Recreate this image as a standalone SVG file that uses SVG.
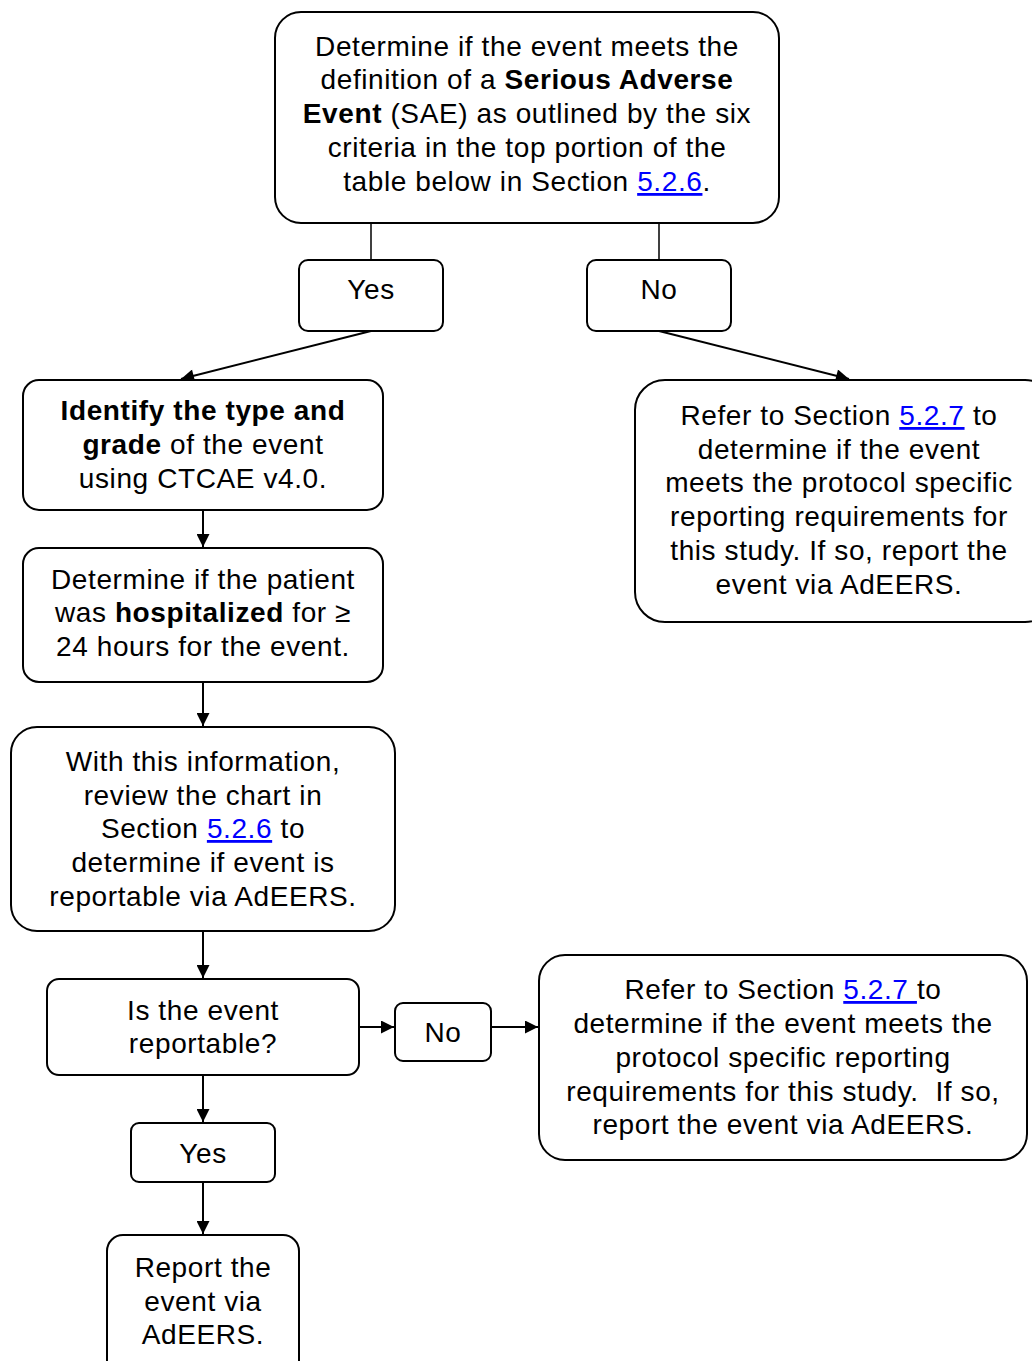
<svg xmlns="http://www.w3.org/2000/svg" width="1032" height="1361" viewBox="0 0 1032 1361">
<style>
.box{fill:#fff;stroke:#000;stroke-width:2}
.t{font-family:"Liberation Sans",Arial,sans-serif;font-size:28px;letter-spacing:0.6px;fill:#000;text-anchor:middle}
.b{font-weight:bold}
.lk{fill:#0000ff;text-decoration:underline}
.c{stroke:#000;stroke-width:2;fill:none}
.c1{stroke:#000;stroke-width:1.5;fill:none}
</style>
<defs>
<marker id="ah" viewBox="0 0 10 10" refX="10" refY="5" markerWidth="8" markerHeight="6.5" markerUnits="strokeWidth" orient="auto">
<path d="M0,0 L10,5 L0,10 z" fill="#000"/>
</marker>
</defs>
<rect width="1032" height="1361" fill="#fff"/>
<g id="connectors">
<line class="c1" x1="371" y1="223" x2="371" y2="260"/>
<line class="c1" x1="659" y1="223" x2="659" y2="260"/>
<line class="c" x1="371" y1="331" x2="181" y2="379" marker-end="url(#ah)"/>
<line class="c" x1="659" y1="331" x2="849" y2="379" marker-end="url(#ah)"/>
<line class="c" x1="203" y1="510" x2="203" y2="547" marker-end="url(#ah)"/>
<line class="c" x1="203" y1="682" x2="203" y2="726" marker-end="url(#ah)"/>
<line class="c" x1="203" y1="931" x2="203" y2="978" marker-end="url(#ah)"/>
<line class="c" x1="359" y1="1027" x2="394" y2="1027" marker-end="url(#ah)"/>
<line class="c" x1="491" y1="1027" x2="538" y2="1027" marker-end="url(#ah)"/>
<line class="c" x1="203" y1="1075" x2="203" y2="1122" marker-end="url(#ah)"/>
<line class="c" x1="203" y1="1182" x2="203" y2="1234" marker-end="url(#ah)"/>
</g>
<g id="n1">
<rect class="box" x="275" y="12" width="504" height="211" rx="26"/>
<text class="t" x="527" y="56">Determine if the event meets the</text>
<text class="t" x="527" y="89">definition of a <tspan class="b">Serious Adverse</tspan></text>
<text class="t" x="527" y="123"><tspan class="b">Event</tspan> (SAE) as outlined by the six</text>
<text class="t" x="527" y="157">criteria in the top portion of the</text>
<text class="t" x="527" y="191">table below in Section <tspan class="lk">5.2.6</tspan>.</text>
</g>
<g id="yes1">
<rect class="box" x="299" y="260" width="144" height="71" rx="9"/>
<text class="t" x="371" y="299">Yes</text>
</g>
<g id="no1">
<rect class="box" x="587" y="260" width="144" height="71" rx="9"/>
<text class="t" x="659" y="299">No</text>
</g>
<g id="n2">
<rect class="box" x="23" y="380" width="360" height="130" rx="16"/>
<text class="t" x="203" y="420"><tspan class="b">Identify the type and</tspan></text>
<text class="t" x="203" y="454"><tspan class="b">grade</tspan> of the event</text>
<text class="t" x="203" y="488">using CTCAE v4.0.</text>
</g>
<g id="n3">
<rect class="box" x="635" y="380" width="420" height="242" rx="30"/>
<text class="t" x="839" y="425">Refer to Section <tspan class="lk">5.2.7</tspan> to</text>
<text class="t" x="839" y="459">determine if the event</text>
<text class="t" x="839" y="492">meets the protocol specific</text>
<text class="t" x="839" y="526">reporting requirements for</text>
<text class="t" x="839" y="560">this study. If so, report the</text>
<text class="t" x="839" y="594">event via AdEERS.</text>
</g>
<g id="n4">
<rect class="box" x="23" y="548" width="360" height="134" rx="16"/>
<text class="t" x="203" y="589">Determine if the patient</text>
<text class="t" x="203" y="622">was <tspan class="b">hospitalized</tspan> for ≥</text>
<text class="t" x="203" y="656">24 hours for the event.</text>
</g>
<g id="n5">
<rect class="box" x="11" y="727" width="384" height="204" rx="26"/>
<text class="t" x="203" y="771">With this information,</text>
<text class="t" x="203" y="805">review the chart in</text>
<text class="t" x="203" y="838">Section <tspan class="lk">5.2.6</tspan> to</text>
<text class="t" x="203" y="872">determine if event is</text>
<text class="t" x="203" y="906">reportable via AdEERS.</text>
</g>
<g id="n6">
<rect class="box" x="47" y="979" width="312" height="96" rx="12"/>
<text class="t" x="203" y="1020">Is the event</text>
<text class="t" x="203" y="1053">reportable?</text>
</g>
<g id="no2">
<rect class="box" x="395" y="1003" width="96" height="58" rx="8"/>
<text class="t" x="443" y="1042">No</text>
</g>
<g id="n7">
<rect class="box" x="539" y="955" width="488" height="205" rx="26"/>
<text class="t" x="783" y="999">Refer to Section <tspan class="lk">5.2.7 </tspan>to</text>
<text class="t" x="783" y="1033">determine if the event meets the</text>
<text class="t" x="783" y="1067">protocol specific reporting</text>
<text class="t" x="783" y="1101" xml:space="preserve">requirements for this study.  If so,</text>
<text class="t" x="783" y="1134">report the event via AdEERS.</text>
</g>
<g id="yes2">
<rect class="box" x="131" y="1123" width="144" height="59" rx="8"/>
<text class="t" x="203" y="1163">Yes</text>
</g>
<g id="n8">
<rect class="box" x="107" y="1235" width="192" height="150" rx="16"/>
<text class="t" x="203" y="1277">Report the</text>
<text class="t" x="203" y="1311">event via</text>
<text class="t" x="203" y="1344">AdEERS.</text>
</g>
</svg>
